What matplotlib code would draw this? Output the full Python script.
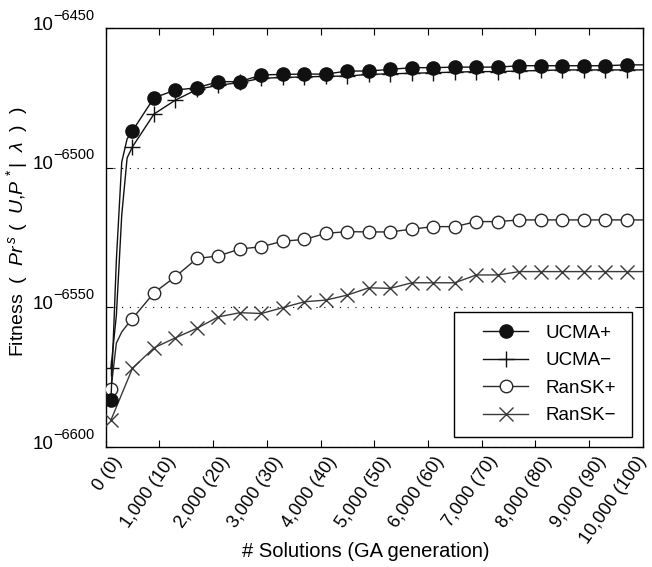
import matplotlib
matplotlib.use("Agg")
import matplotlib.pyplot as plt
from matplotlib.patches import Rectangle

plt.rcParams['font.family'] = ['Liberation Sans', 'DejaVu Sans']
plt.rcParams['mathtext.fontset'] = 'custom'
plt.rcParams['mathtext.rm'] = 'Liberation Sans'
plt.rcParams['mathtext.it'] = 'Liberation Sans:italic'
plt.rcParams['mathtext.bf'] = 'Liberation Sans:bold'

# Data: x = GA generation, y = log10 fitness exponent
ucma_p_gen = [1, 2, 3, 4, 5, 9, 13, 17, 21, 25, 29, 33, 37, 41, 45, 49, 53, 57, 61, 65, 69, 73, 77, 81, 85, 89, 93, 97, 100]
ucma_p_fit = [-6583, -6533, -6498, -6489.7, -6486.8, -6475, -6472.2, -6471.4, -6469.2, -6469.2,
              -6466.8, -6466.6, -6466.5, -6466.5, -6465.4, -6465.4, -6464.8, -6464.2, -6464.2, -6464,
              -6464, -6464, -6463.5, -6463.5, -6463.5, -6463.5, -6463.5, -6463.2, -6463.2]

ucma_m_gen = [1, 2, 3, 4, 5, 9, 13, 17, 21, 25, 29, 33, 37, 41, 45, 49, 53, 57, 61, 65, 69, 73, 77, 81, 85, 89, 93, 97, 100]
ucma_m_fit = [-6571.6, -6552.8, -6517, -6496.5, -6492.5, -6480.8, -6475.8, -6472, -6470.5, -6469.5,
              -6468, -6467.7, -6467.5, -6467.3, -6467.2, -6466.6, -6466.4, -6466.2, -6466, -6465.8,
              -6465.6, -6465.6, -6465.4, -6465.2, -6465, -6465, -6465, -6465, -6465]

ransk_p_gen = [1, 2, 3, 4, 5, 9, 13, 17, 21, 25, 29, 33, 37, 41, 45, 49, 53, 57, 61, 65, 69, 73, 77, 81, 85, 89, 93, 97, 100]
ransk_p_fit = [-6579.3, -6562.8, -6558.8, -6556.3, -6554, -6544.8, -6539, -6532.5, -6531.6, -6529.1,
               -6528.3, -6526.3, -6525.7, -6523.5, -6522.9, -6523, -6523, -6522, -6521.1, -6521.1,
               -6519.3, -6519.3, -6518.7, -6518.7, -6518.7, -6518.7, -6518.7, -6518.7, -6518.7]

ransk_m_gen = [1, 5, 9, 13, 17, 21, 25, 29, 33, 37, 41, 45, 49, 53, 57, 61, 65, 69, 73, 77, 81, 85, 89, 93, 97, 100]
ransk_m_fit = [-6590.3, -6571.8, -6564.5, -6560.9, -6557.5, -6553.4, -6551.9, -6552.2, -6550.1, -6548,
               -6547.4, -6545.6, -6543, -6543.2, -6541.2, -6541.2, -6541.2, -6538.4, -6538.4, -6537.2,
               -6537.2, -6537.2, -6537.2, -6537.2, -6537.2, -6537.2]

series_labels = ['UCMA+', 'UCMA\u2212', 'RanSK+', 'RanSK\u2212']

xticks = [0, 10, 20, 30, 40, 50, 60, 70, 80, 90, 100]
xtick_labels = ['0 (0)', '1,000 (10)', '2,000 (20)', '3,000 (30)', '4,000 (40)', '5,000 (50)',
                '6,000 (60)', '7,000 (70)', '8,000 (80)', '9,000 (90)', '10,000 (100)']
yticks = [-6600, -6550, -6500, -6450]
ytick_base = ['10', '10', '10', '10']
ytick_exp = ['\u22126600', '\u22126550', '\u22126500', '\u22126450']

fig = plt.figure(figsize=(6.52, 5.67), dpi=100)
ax = fig.add_axes([0.162, 0.2116, 0.824, 0.739])

def mk(gens):
    return [i for i, g in enumerate(gens) if g % 4 == 1]

ax.plot(ucma_p_gen, ucma_p_fit, color='#111111', lw=1.0, marker='o', ms=9.5,
        mfc='#111111', mec='#111111', markevery=mk(ucma_p_gen), label=series_labels[0], zorder=4)
ax.plot(ucma_m_gen, ucma_m_fit, color='#111111', lw=1.0, marker='+', ms=11, mew=1.0,
        markevery=mk(ucma_m_gen), label=series_labels[1], zorder=3)
ax.plot(ransk_p_gen, ransk_p_fit, color='#2a2a2a', lw=1.0, marker='o', ms=9, mfc='white',
        mec='#2a2a2a', mew=1.0, markevery=mk(ransk_p_gen), label=series_labels[2], zorder=3)
ax.plot(ransk_m_gen, ransk_m_fit, color='#3a3a3a', lw=1.0, marker='x', ms=10, mew=1.0,
        markevery=mk(ransk_m_gen), label=series_labels[3], zorder=3)

ax.set_xlim(0, 100)
ax.set_ylim(-6600, -6450)
ax.set_xticks(xticks)
ax.set_xticklabels([])
ax.set_yticks(yticks)
ax.set_yticklabels([])
ax.tick_params(direction='in', length=5, width=0.8, top=True, right=True)
ax.yaxis.grid(True, linestyle=(0, (1, 6)), color='k', linewidth=0.8)
for s in ax.spines.values():
    s.set_linewidth(1.0)

# rotated x tick labels
for i, (xt, lab) in enumerate(zip(xticks, xtick_labels)):
    dx = 4.3 if i < len(xticks) - 1 else -5.0
    ax.annotate(lab, xy=(xt, 0), xycoords=('data', 'axes fraction'), xytext=(dx, -4.5),
                textcoords='offset points', rotation=55, ha='right', va='top',
                rotation_mode='anchor', fontsize=13)

# y tick labels as 10 with raised exponent
for yt, b, e in zip(yticks, ytick_base, ytick_exp):
    ax.annotate(b, xy=(0, yt), xycoords=('axes fraction', 'data'), xytext=(-37.7, -1.2),
                textcoords='offset points', ha='right', va='baseline', fontsize=13.5)
    ax.annotate(e, xy=(0, yt), xycoords=('axes fraction', 'data'), xytext=(-37.4, 6.0),
                textcoords='offset points', ha='left', va='baseline', fontsize=10.5)

ax.set_xlabel('# Solutions (GA generation)', fontsize=14.5)
ax.xaxis.set_label_coords(0.4836, -0.226)
ax.set_ylabel(r'Fitness  (  $Pr^{\,s}$ (  $U$,$P^{\,*}$|  $\lambda$  )  )', fontsize=14)
ax.yaxis.set_label_coords(-0.14, 0.513)

# legend with MATLAB-like frame
x0, y0, w, h = 0.6489, 0.0239, 0.3307, 0.299
frame = Rectangle((x0, y0), w, h, transform=ax.transAxes, facecolor='white',
                  edgecolor='black', linewidth=1.0, zorder=5)
ax.add_patch(frame)
leg = ax.legend(loc='center', bbox_to_anchor=(x0 + 0.012, y0, w, h), borderaxespad=0,
                fontsize=13.5, frameon=False, handlelength=2.4, handletextpad=0.92,
                borderpad=0.0, labelspacing=0.55)
leg.set_zorder(6)

fig.savefig('out.png', dpi=100)
